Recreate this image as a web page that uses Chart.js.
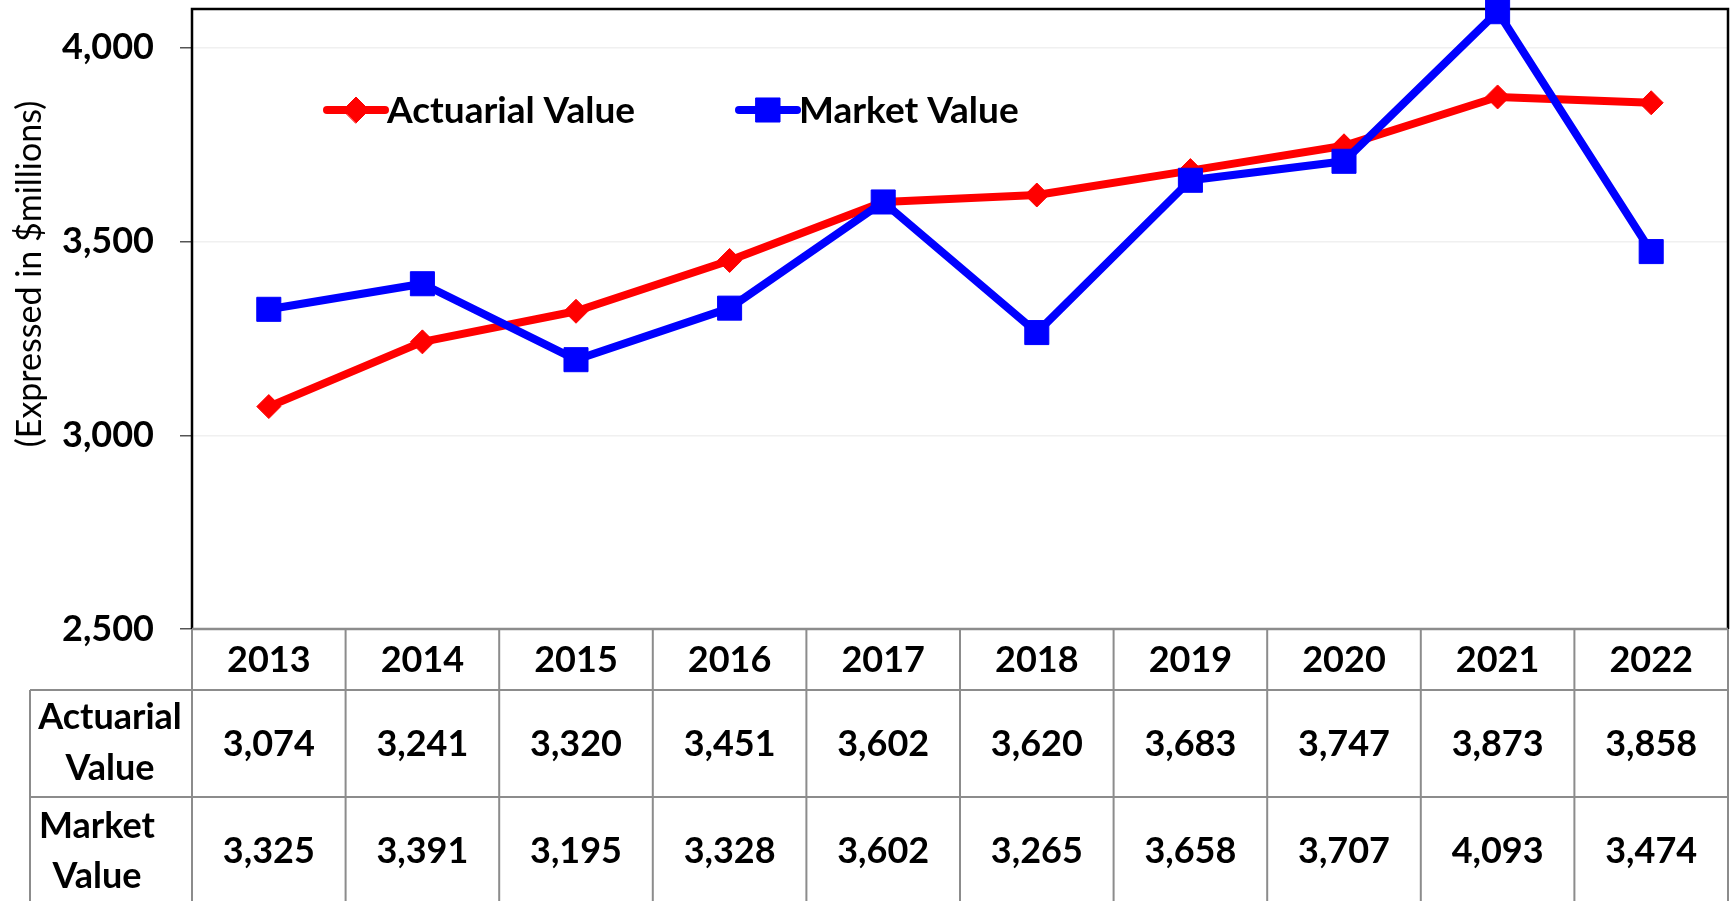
<!DOCTYPE html>
<html><head><meta charset="utf-8">
<script src="https://cdn.jsdelivr.net/npm/chart.js@4"></script>
<style>html,body{margin:0;padding:0;background:#fff;overflow:hidden}#wrap{width:1735px;height:901px;position:relative}canvas{display:block}</style>
</head><body><div id="wrap"><canvas id="c" width="1735" height="901"></canvas></div>
<script>
const years = ['2013','2014','2015','2016','2017','2018','2019','2020','2021','2022'];
const actuarialValue = [3074, 3241, 3320, 3451, 3602, 3620, 3683, 3747, 3873, 3858];
const marketValue = [3325, 3391, 3195, 3328, 3602, 3265, 3658, 3707, 4093, 3474];
const yTickValues = [2500, 3000, 3500, 4000];
const yTickLabels = ['2,500', '3,000', '3,500', '4,000'];
const seriesNames = ['Actuarial Value', 'Market Value'];
const rowLabels = [['Actuarial', 'Value'], ['Market', 'Value']];
const axisTitle = '(Expressed in $millions)';

const RED = '#ff0000', BLUE = '#0000ff';
const BOLD = '700 36px Lato';
const LEGEND_FONT = '700 37px Lato';
const fmt = v => v.toLocaleString('en-US');

const framePlugin = {
  id: 'frame',
  beforeDatasetsDraw(chart) {
    const {ctx, chartArea: a} = chart;
    ctx.save();
    ctx.strokeStyle = '#000';
    ctx.lineWidth = 2.5;
    ctx.beginPath();
    ctx.moveTo(a.left, a.bottom);
    ctx.lineTo(a.left, a.top);
    ctx.lineTo(a.right, a.top);
    ctx.lineTo(a.right, a.bottom);
    ctx.stroke();
    ctx.restore();
  },
  afterDraw(chart) {
    const {ctx, chartArea: a} = chart;
    const xs = chart.scales.x;
    const n = years.length;
    const px = i => xs.getPixelForValue(i);
    const bounds = [a.left];
    for (let i = 1; i < n; i++) bounds.push((px(i - 1) + px(i)) / 2);
    bounds.push(a.right);
    const labelLeft = 30;
    const hTop = a.bottom, hBot = hTop + 61, r1Bot = hBot + 107, r2Bot = r1Bot + 106;
    ctx.save();
    // table lines
    ctx.strokeStyle = '#8c8c8c';
    ctx.lineWidth = 2;
    ctx.beginPath();
    [hBot, r1Bot].forEach(y => { ctx.moveTo(labelLeft, y); ctx.lineTo(a.right, y); });
    bounds.forEach(x => { ctx.moveTo(x, hTop); ctx.lineTo(x, r2Bot); });
    ctx.moveTo(labelLeft, hBot); ctx.lineTo(labelLeft, r2Bot);
    ctx.stroke();
    ctx.lineWidth = 2.5;
    ctx.beginPath();
    ctx.moveTo(a.left, hTop); ctx.lineTo(a.right, hTop);
    ctx.stroke();
    // table text
    ctx.fillStyle = '#000';
    ctx.font = BOLD;
    ctx.textAlign = 'center';
    ctx.textBaseline = 'middle';
    for (let i = 0; i < n; i++) {
      const cx = (bounds[i] + bounds[i + 1]) / 2;
      ctx.fillText(years[i], cx, (hTop + hBot) / 2 + 1);
      ctx.fillText(fmt(actuarialValue[i]), cx, (hBot + r1Bot) / 2 + 1);
      ctx.fillText(fmt(marketValue[i]), cx, (r1Bot + r2Bot) / 2 + 1);
    }
    ctx.fillText(rowLabels[0][0], 110, hBot + 27);
    ctx.fillText(rowLabels[0][1], 110, hBot + 78);
    ctx.fillText(rowLabels[1][0], 97, r1Bot + 29);
    ctx.fillText(rowLabels[1][1], 97, r1Bot + 79);
    // legend
    const ly = 110;
    const items = [
      {x0: 327, x1: 385, color: RED, style: 'rectRot', r: 13, tx: 387, text: seriesNames[0]},
      {x0: 739, x1: 797, color: BLUE, style: 'rect', r: 17, tx: 799, text: seriesNames[1]}
    ];
    items.forEach(it => {
      ctx.strokeStyle = it.color;
      ctx.lineWidth = 8;
      ctx.lineCap = 'round';
      ctx.beginPath(); ctx.moveTo(it.x0, ly); ctx.lineTo(it.x1, ly); ctx.stroke();
      ctx.fillStyle = it.color;
      ctx.lineWidth = 1;
      Chart.helpers.drawPoint(ctx, {pointStyle: it.style, radius: it.r, borderWidth: 1, rotation: 0}, (it.x0 + it.x1) / 2, ly);
      ctx.fillStyle = '#000';
      ctx.font = LEGEND_FONT;
      ctx.textAlign = 'left';
      ctx.fillText(it.text, it.tx, ly + 1);
    });
    // y-axis title
    ctx.translate(30, 274);
    ctx.rotate(-Math.PI / 2);
    ctx.font = '400 34px Lato';
    ctx.textAlign = 'center';
    ctx.fillStyle = '#000';
    ctx.fillText(axisTitle, 0, 0);
    ctx.restore();
  }
};

new Chart(document.getElementById('c'), {
  type: 'line',
  data: {
    labels: years,
    datasets: [
      {label: seriesNames[0], data: actuarialValue, order: 1, borderColor: RED, backgroundColor: RED,
       borderWidth: 8, pointStyle: 'rectRot', pointRadius: 12, pointBorderWidth: 1,
       pointBackgroundColor: RED, pointBorderColor: RED, tension: 0, borderJoinStyle: 'round', borderCapStyle: 'round'},
      {label: seriesNames[1], data: marketValue, order: 0, borderColor: BLUE, backgroundColor: BLUE,
       borderWidth: 8, pointStyle: 'rect', pointRadius: 17, pointBorderWidth: 1,
       pointBackgroundColor: BLUE, pointBorderColor: BLUE, tension: 0, borderJoinStyle: 'round', borderCapStyle: 'round'}
    ]
  },
  options: {
    responsive: false,
    animation: false,
    devicePixelRatio: 1,
    clip: false,
    layout: {autoPadding: false, padding: {left: 0, top: 9, right: 7, bottom: 272}},
    plugins: {legend: {display: false}, tooltip: {enabled: false}},
    scales: {
      x: {type: 'category', display: false, offset: true},
      y: {
        min: 2500, max: 4100,
        afterBuildTicks: s => { s.ticks = yTickValues.map(v => ({value: v})); },
        afterFit: s => { s.width = 192; s.paddingTop = 0; s.paddingBottom = 0; },
        ticks: {
          padding: 26, color: '#000', font: {family: 'Lato', size: 36, weight: '700'},
          callback: (v) => yTickLabels[yTickValues.indexOf(v)]
        },
        grid: {color: '#f0f0f0', lineWidth: 1.5, tickLength: 12, tickColor: '#555', tickWidth: 1.5},
        border: {display: false}
      }
    }
  },
  plugins: [framePlugin]
});
</script></body></html>
